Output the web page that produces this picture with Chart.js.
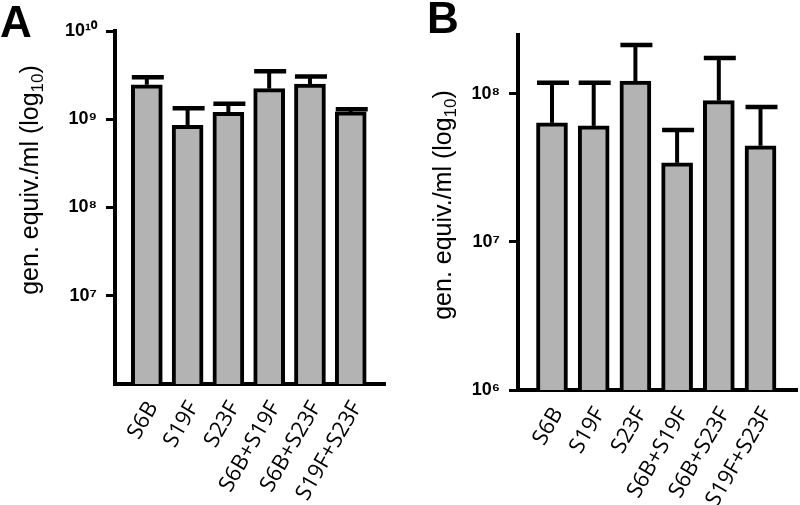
<!DOCTYPE html>
<html>
<head>
<meta charset="utf-8">
<script src="https://cdn.jsdelivr.net/npm/chart.js@4.4.1/dist/chart.umd.min.js"></script>
<style>
  body { margin: 0; background: #fff; }
  #wrap { position: relative; width: 800px; height: 505px; }
  canvas { position: absolute; top: 0; }
</style>
</head>
<body>
<div id="wrap">
  <canvas id="chartA" width="400" height="505" style="left:0"></canvas>
  <canvas id="chartB" width="400" height="505" style="left:400px"></canvas>
</div>
<script>
const strains = ['S6B', 'S19F', 'S23F', 'S6B+S19F', 'S6B+S23F', 'S19F+S23F'];

// panel A: bar value and top of error bar
const meanA = [2.46e9, 8.55e8, 1.2e9, 2.22e9, 2.5e9, 1.21e9];
const upperA = [3.0e9, 1.33e9, 1.5e9, 3.5e9, 3.05e9, 1.3e9];
const ticksA = [1e7, 1e8, 1e9, 1e10];

// panel B
const meanB = [6.37e7, 6.08e7, 1.22e8, 3.42e7, 9.0e7, 4.46e7];
const upperB = [1.19e8, 1.19e8, 2.14e8, 5.7e7, 1.75e8, 8.17e7];
const ticksB = [1e6, 1e7, 1e8];

const sup = {'0':'⁰','1':'¹','2':'²','3':'³','4':'⁴','5':'⁵','6':'⁶','7':'⁷','8':'⁸','9':'⁹'};
function pow10(v) {
    const e = String(Math.round(Math.log10(v)));
    return '10' + e.split('').map(d => sup[d]).join('');
}

const errBars = {
    id: 'errBars',
    afterDatasetsDraw(chart, args, opts) {
        const ctx = chart.ctx;
        const y = chart.scales.y;
        const meta = chart.getDatasetMeta(0);
        ctx.save();
        ctx.strokeStyle = '#000';
        meta.data.forEach((bar, i) => {
            const top = y.getPixelForValue(opts.upper[i]);
            ctx.lineWidth = 4;
            ctx.beginPath();
            ctx.moveTo(bar.x, bar.y);
            ctx.lineTo(bar.x, top);
            ctx.stroke();
            ctx.lineWidth = 4.5;
            ctx.beginPath();
            ctx.moveTo(bar.x - 15, top);
            ctx.lineTo(bar.x + 17, top);
            ctx.stroke();
        });
        ctx.restore();
    }
};

const panelText = {
    id: 'panelText',
    afterDraw(chart, args, o) {
        const ctx = chart.ctx;
        ctx.save();
        ctx.fillStyle = '#000';
        ctx.textBaseline = 'alphabetic';
        ctx.font = 'bold 44px "Liberation Sans"';
        ctx.fillText(o.letter, o.letterX, o.letterY);

        // y axis title with subscript
        const main = 'gen. equiv./ml (log', sub = '10', end = ')';
        const big = '25px "Liberation Sans"', small = '17px "Liberation Sans"';
        ctx.font = big;
        const w1 = ctx.measureText(main).width, w3 = ctx.measureText(end).width;
        ctx.font = small;
        const w2 = ctx.measureText(sub).width;
        const total = w1 + w2 + w3;
        ctx.translate(o.titleX, o.titleY);
        ctx.rotate(-Math.PI / 2);
        let x = -total / 2;
        ctx.font = big;
        ctx.fillText(main, x, 0);
        x += w1;
        ctx.font = small;
        ctx.fillText(sub, x, 5);
        x += w2;
        ctx.font = big;
        ctx.fillText(end, x, 0);
        ctx.restore();
    }
};

function makeChart(id, mean, upper, ticks, s) {
    return new Chart(document.getElementById(id), {
        type: 'bar',
        data: {
            datasets: [{
                data: strains.map((c, i) => ({x: i, y: mean[i]})),
                backgroundColor: '#b3b3b3',
                borderColor: '#000',
                borderWidth: 4,
                barThickness: 31
            }]
        },
        options: {
            responsive: false,
            animation: false,
            layout: { padding: { left: 0, top: s.top, right: s.right, bottom: 0 } },
            plugins: {
                legend: { display: false },
                tooltip: { enabled: false },
                errBars: { upper: upper },
                panelText: s.text
            },
            scales: {
                x: {
                    type: 'linear',
                    offset: false,
                    bounds: 'data',
                    min: s.xmin,
                    max: s.xmax,
                    afterBuildTicks: sc => { sc.ticks = strains.map((c, i) => ({value: i})); },
                    afterFit: sc => { sc.height = s.xh; },
                    ticks: {
                        callback: v => strains[v],
                        autoSkip: false,
                        minRotation: 60,
                        maxRotation: 60,
                        padding: 5,
                        labelOffset: 6,
                        color: '#000',
                        font: { family: 'Open Sans', size: 22 }
                    },
                    grid: { display: false },
                    border: { color: '#000', width: 4 }
                },
                y: {
                    type: 'logarithmic',
                    min: s.ymin,
                    max: s.ymax,
                    afterBuildTicks: sc => { sc.ticks = ticks.map(v => ({value: v})); },
                    afterFit: sc => { sc.width = s.yw; },
                    ticks: {
                        callback: v => pow10(v),
                        padding: 9,
                        color: '#000',
                        font: { family: 'Liberation Sans', size: 18, weight: 'bold' }
                    },
                    grid: { drawOnChartArea: false, tickLength: 9, lineWidth: 3, color: '#000' },
                    border: { color: '#000', width: 4 }
                }
            }
        },
        plugins: [errBars, panelText]
    });
}

makeChart('chartA', meanA, upperA, ticksA, {
    top: 31, right: 15, yw: 115, xh: 121,
    xmin: -0.78, xmax: 5.84, ymin: 1e6, ymax: 1e10,
    text: { letter: 'A', letterX: 0, letterY: 37, titleX: 38, titleY: 180 }
});

makeChart('chartB', meanB, upperB, ticksB, {
    top: 35, right: 3, yw: 118, xh: 115,
    xmin: -0.815, xmax: 5.875, ymin: 1e6, ymax: 2.5e8,
    text: { letter: 'B', letterX: 27, letterY: 33, titleX: 51, titleY: 205 }
});
</script>
</body>
</html>
